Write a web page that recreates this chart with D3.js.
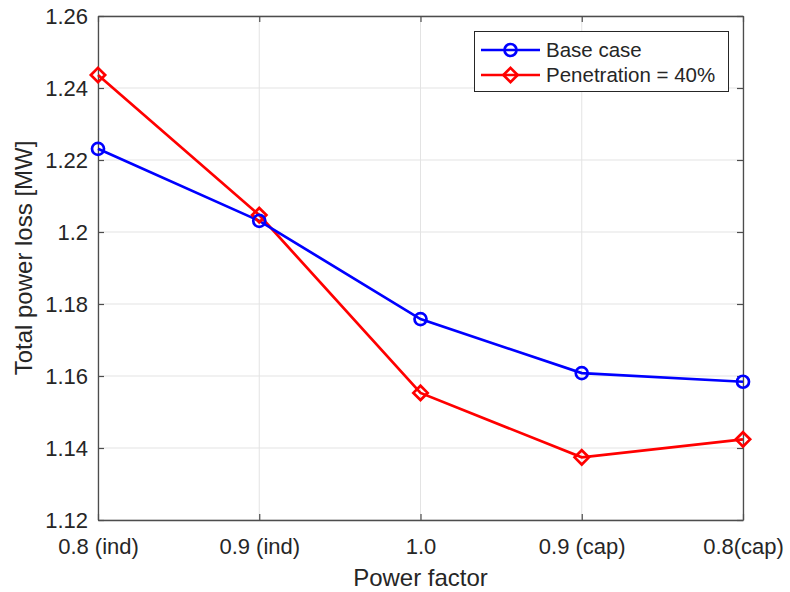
<!DOCTYPE html>
<html>
<head>
<meta charset="utf-8">
<script src="https://cdn.jsdelivr.net/npm/d3@7"></script>
<style>
  body { margin: 0; background: #fff; }
  text { font-family: "Liberation Sans", Arial, sans-serif; fill: #262626; }
</style>
</head>
<body>
<div id="chart"></div>
<script>
var categories = ["0.8 (ind)", "0.9 (ind)", "1.0", "0.9 (cap)", "0.8(cap)"];
var baseCase = [1.2231, 1.2031, 1.1758, 1.1608, 1.1584];
var penetration40 = [1.2436, 1.2047, 1.1553, 1.1374, 1.1424];
var yTicks = [1.12, 1.14, 1.16, 1.18, 1.2, 1.22, 1.24, 1.26];
var yTickLabels = ["1.12", "1.14", "1.16", "1.18", "1.2", "1.22", "1.24", "1.26"];

var width = 790, height = 592;
var margin = {left: 98, right: 47, top: 16, bottom: 72};

var svg = d3.select("#chart").append("svg").attr("width", width).attr("height", height);

var x = d3.scalePoint().domain(categories).range([margin.left, width - margin.right]);
var y = d3.scaleLinear().domain([1.12, 1.26]).range([height - margin.bottom, margin.top]);

var x0 = margin.left, x1 = width - margin.right, y0 = height - margin.bottom, y1 = margin.top;

// grid
svg.append("g").selectAll("line").data(categories).enter().append("line")
    .attr("x1", d => x(d)).attr("x2", d => x(d)).attr("y1", y0).attr("y2", y1)
    .attr("stroke", "#e3e3e3").attr("stroke-width", 1);
svg.append("g").selectAll("line").data(yTicks).enter().append("line")
    .attr("x1", x0).attr("x2", x1).attr("y1", d => y(d)).attr("y2", d => y(d))
    .attr("stroke", "#e3e3e3").attr("stroke-width", 1);

// axes with inward ticks
var axisColor = "#4d4d4d";
var xAxis = d3.axisBottom(x).tickSizeInner(-6).tickSizeOuter(0).tickPadding(18);
var yAxis = d3.axisLeft(y).tickValues(yTicks).tickFormat((d, i) => yTickLabels[i]).tickSizeInner(-6).tickSizeOuter(0).tickPadding(10);

var gx = svg.append("g").attr("transform", "translate(0," + y0 + ")").call(xAxis);
var gy = svg.append("g").attr("transform", "translate(" + x0 + ",0)").call(yAxis);
var gxt = svg.append("g").attr("transform", "translate(0," + y1 + ")").call(d3.axisTop(x).tickSizeInner(-6).tickSizeOuter(0).tickFormat(""));
var gyr = svg.append("g").attr("transform", "translate(" + x1 + ",0)").call(d3.axisRight(y).tickValues(yTicks).tickSizeInner(-6).tickSizeOuter(0).tickFormat(""));

[gx, gy, gxt, gyr].forEach(g => {
    g.select(".domain").attr("stroke", axisColor).attr("stroke-width", 1.3);
    g.selectAll(".tick line").attr("stroke", axisColor).attr("stroke-width", 1.2);
    g.selectAll(".tick text").attr("fill", "#262626").style("font-size", "22px")
        .style("font-family", "'Liberation Sans', Arial, sans-serif");
});
gx.selectAll(".tick text").attr("dy", "0.71em");
gy.selectAll(".tick text").attr("dy", "0.36em");

// axis labels
svg.append("text").attr("x", (x0 + x1) / 2).attr("y", 586).attr("text-anchor", "middle")
    .style("font-size", "24px").text("Power factor");
svg.append("text").attr("transform", "translate(32,258) rotate(-90)")
    .attr("text-anchor", "middle").style("font-size", "24px").text("Total power loss [MW]");

// series
var line = d3.line().x((d, i) => x(categories[i])).y(d => y(d));

svg.append("path").datum(penetration40).attr("fill", "none").attr("stroke", "#ff0000").attr("stroke-width", 2.7).attr("d", line);
svg.append("path").datum(baseCase).attr("fill", "none").attr("stroke", "#0000ff").attr("stroke-width", 2.7).attr("d", line);

var diamond = d3.symbol().type(d3.symbolDiamond2).size(130);

svg.selectAll(".pen").data(penetration40).enter().append("path").attr("class", "pen")
    .attr("transform", (d, i) => "translate(" + x(categories[i]) + "," + y(d) + ")")
    .attr("d", diamond).attr("fill", "none").attr("stroke", "#ff0000").attr("stroke-width", 2.7);

svg.selectAll(".base").data(baseCase).enter().append("circle").attr("class", "base")
    .attr("cx", (d, i) => x(categories[i])).attr("cy", d => y(d)).attr("r", 6)
    .attr("fill", "none").attr("stroke", "#0000ff").attr("stroke-width", 2.7);

// legend
var legend = svg.append("g");
legend.append("rect").attr("x", 474.5).attr("y", 31.5).attr("width", 254).attr("height", 60)
    .attr("fill", "#fff").attr("stroke", "#262626").attr("stroke-width", 1);
var items = [
    {label: "Base case", color: "#0000ff", shape: "circle"},
    {label: "Penetration = 40%", color: "#ff0000", shape: "diamond"}
];
items.forEach((it, i) => {
    var ly = 50 + i * 25;
    legend.append("line").attr("x1", 481).attr("x2", 540).attr("y1", ly).attr("y2", ly)
        .attr("stroke", it.color).attr("stroke-width", 2.7);
    if (it.shape === "circle") {
        legend.append("circle").attr("cx", 510.5).attr("cy", ly).attr("r", 6)
            .attr("fill", "none").attr("stroke", it.color).attr("stroke-width", 2.7);
    } else {
        legend.append("path").attr("transform", "translate(510.5," + ly + ")").attr("d", diamond)
            .attr("fill", "none").attr("stroke", it.color).attr("stroke-width", 2.7);
    }
    legend.append("text").attr("x", 546).attr("y", ly + 7).style("font-size", "20.5px").text(it.label);
});
</script>
</body>
</html>
